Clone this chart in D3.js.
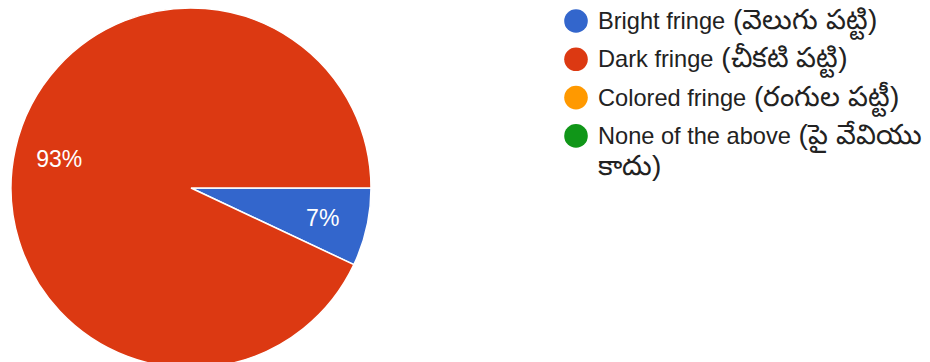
<!DOCTYPE html>
<html>
<head>
<meta charset="utf-8">
<script src="https://cdn.jsdelivr.net/npm/d3@7"></script>
<style>
  html, body { margin: 0; padding: 0; background: #fff; }
  svg { display: block; font-family: "Liberation Sans", Arial, "Noto Sans", sans-serif; }
</style>
</head>
<body>
<svg id="chart" width="930" height="362"></svg>
<script>
// Responses per option
const categories = [
  "Bright fringe (వెలుగు పట్టి)",
  "Dark fringe (చీకటి పట్టి)",
  "Colored fringe (రంగుల పట్టీ)",
  "None of the above (పై వేవియు కాదు)"
];
const values = [7, 93, 0, 0];
const colors = ["#3366cc", "#dc3912", "#ff9900", "#109618"];

const svg = d3.select("#chart");
const cx = 191, cy = 188, radius = 180;

const data = categories.map((c, i) => ({ name: c, value: values[i], color: colors[i] }));
const total = d3.sum(values);

// Slices start at 3 o'clock and run clockwise
const pie = d3.pie()
  .sort(null)
  .value(d => d.value)
  .startAngle(Math.PI / 2)
  .endAngle(Math.PI / 2 + 2 * Math.PI);

const arcs = pie(data).filter(a => a.data.value > 0);
const arc = d3.arc().innerRadius(0).outerRadius(radius);
const labelArc = d3.arc().innerRadius(radius * 0.75).outerRadius(radius * 0.75);

const g = svg.append("g").attr("transform", `translate(${cx},${cy})`);

g.selectAll("path.slice")
  .data(arcs)
  .join("path")
  .attr("class", "slice")
  .attr("d", arc)
  .attr("fill", d => d.data.color)
  .attr("stroke", "#fff")
  .attr("stroke-width", 1.5);

g.selectAll("text.pct")
  .data(arcs)
  .join("text")
  .attr("class", "pct")
  .attr("transform", d => `translate(${labelArc.centroid(d)})`)
  .attr("text-anchor", "middle")
  .attr("dy", "0.36em")
  .attr("fill", "#fff")
  .attr("font-size", 23)
  .text(d => Math.round(d.data.value / total * 100) + "%");

// Legend
const legendX = 576, legendTop = 21, rowGap = 38.3, lineGap = 31, maxWidth = 340;
const textX = legendX + 22;
const latinSize = 23.6, teluguSize = 28;
const isTelugu = w => /[\u0C00-\u0C7F]/.test(w);
const sizeOf = w => isTelugu(w) ? teluguSize : latinSize;

// measure a run of text at a given size
const probe = svg.append("text").attr("visibility", "hidden");
function measure(str, size) {
  probe.attr("font-size", size).text(str);
  return probe.node().getComputedTextLength();
}

const legend = svg.append("g");
let y = legendTop;
data.forEach(d => {
  const row = legend.append("g");
  row.append("circle")
    .attr("cx", legendX)
    .attr("cy", y)
    .attr("r", 11.8)
    .attr("fill", d.color);

  // break words into lines that fit the legend width
  const words = d.name.split(" ");
  const lines = [[]];
  let width = 0;
  words.forEach(w => {
    const ww = measure(w, sizeOf(w));
    const sp = measure("\u00a0", sizeOf(w));
    const cur = lines[lines.length - 1];
    const add = cur.length ? sp + ww : ww;
    if (cur.length && width + add > maxWidth) {
      lines.push([w]);
      width = ww;
    } else {
      cur.push(w);
      width += add;
    }
  });

  const text = row.append("text")
    .attr("y", y + 8)
    .attr("fill", "#222");
  lines.forEach((ln, li) => {
    ln.forEach((w, wi) => {
      const t = text.append("tspan")
        .attr("font-size", sizeOf(w))
        .text((wi ? " " : "") + w);
      if (wi === 0) t.attr("x", textX).attr("dy", li ? lineGap : 0);
    });
  });
  y += rowGap + (lines.length - 1) * lineGap;
});
probe.remove();
</script>
</body>
</html>
